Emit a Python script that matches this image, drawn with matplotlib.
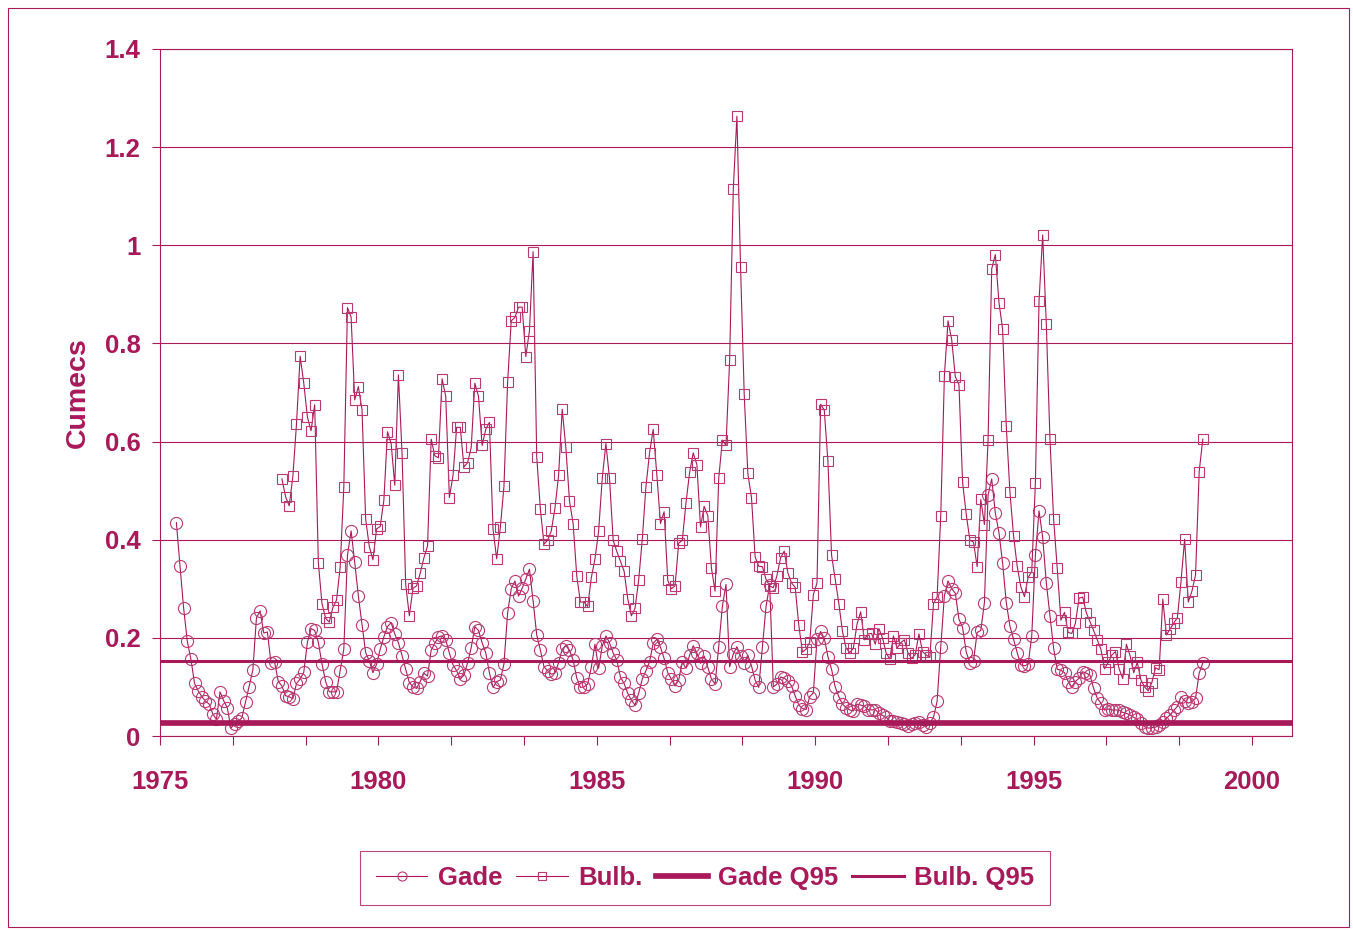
import matplotlib
matplotlib.use('Agg')
import matplotlib.pyplot as plt
from matplotlib.patches import Rectangle
import numpy as np

plt.rcParams['font.family'] = ['Liberation Sans', 'DejaVu Sans']

col = '#A8195A'
mcol = '#B93A72'   # markers look a bit lighter than the lines

# monthly flows (cumecs), month index counted from Jan 1975
gade_start = 4      # May 1975
gade = [0.435, 0.346, 0.26, 0.193, 0.156, 0.107, 0.092, 0.08, 0.071, 0.065,
        0.045, 0.034, 0.09, 0.072, 0.057, 0.016, 0.025, 0.03, 0.037, 0.069,
        0.10, 0.134, 0.241, 0.255, 0.21, 0.212, 0.149, 0.15, 0.111, 0.102,
        0.082, 0.08, 0.076, 0.107, 0.116, 0.13, 0.191, 0.219, 0.215, 0.191,
        0.147, 0.111, 0.09, 0.09, 0.09, 0.133, 0.177, 0.368, 0.418, 0.354,
        0.285, 0.227, 0.17, 0.153, 0.129, 0.146, 0.177, 0.202, 0.223, 0.231,
        0.208, 0.19, 0.164, 0.136, 0.109, 0.10, 0.097, 0.111, 0.128, 0.122,
        0.175, 0.189, 0.202, 0.204, 0.196, 0.169, 0.145, 0.133, 0.116, 0.124,
        0.149, 0.18, 0.223, 0.215, 0.19, 0.169, 0.129, 0.099, 0.111, 0.114,
        0.147, 0.251, 0.30, 0.316, 0.285, 0.301, 0.32, 0.34, 0.275, 0.206,
        0.175, 0.141, 0.133, 0.126, 0.128, 0.149, 0.177, 0.184, 0.175, 0.155,
        0.118, 0.099, 0.10, 0.106, 0.14, 0.187, 0.138, 0.183, 0.204, 0.19,
        0.169, 0.155, 0.12, 0.107, 0.087, 0.073, 0.063, 0.087, 0.116, 0.133,
        0.151, 0.189, 0.197, 0.181, 0.158, 0.129, 0.116, 0.102, 0.114, 0.151,
        0.138, 0.165, 0.184, 0.169, 0.148, 0.163, 0.14, 0.116, 0.106, 0.182,
        0.264, 0.309, 0.141, 0.167, 0.182, 0.163, 0.149, 0.165, 0.143, 0.114,
        0.099, 0.182, 0.264, 0.308, 0.10, 0.106, 0.12, 0.118, 0.112, 0.102,
        0.082, 0.063, 0.056, 0.054, 0.08, 0.088, 0.197, 0.213, 0.199, 0.162,
        0.136, 0.10, 0.08, 0.065, 0.058, 0.053, 0.051, 0.065, 0.063, 0.061,
        0.054, 0.053, 0.054, 0.046, 0.042, 0.038, 0.031, 0.03, 0.028, 0.027,
        0.024, 0.02, 0.024, 0.026, 0.028, 0.022, 0.019, 0.027, 0.038, 0.071,
        0.182, 0.286, 0.316, 0.30, 0.291, 0.238, 0.221, 0.171, 0.149, 0.153,
        0.211, 0.215, 0.272, 0.491, 0.524, 0.454, 0.414, 0.352, 0.272, 0.224,
        0.197, 0.17, 0.145, 0.143, 0.146, 0.204, 0.369, 0.459, 0.405, 0.312,
        0.245, 0.179, 0.136, 0.134, 0.129, 0.111, 0.10, 0.111, 0.118, 0.131,
        0.128, 0.124, 0.097, 0.077, 0.067, 0.053, 0.055, 0.053, 0.053, 0.053,
        0.048, 0.046, 0.043, 0.038, 0.034, 0.026, 0.019, 0.016, 0.017, 0.018,
        0.022, 0.029, 0.036, 0.043, 0.052, 0.06, 0.08, 0.072, 0.067, 0.07,
        0.077, 0.128, 0.149]

bulb_start = 33     # Oct 1977
bulb = [0.524, 0.488, 0.469, 0.529, 0.636, 0.774, 0.719, 0.65, 0.622, 0.675,
        0.353, 0.27, 0.24, 0.232, 0.262, 0.277, 0.344, 0.507, 0.873, 0.854,
        0.685, 0.712, 0.665, 0.442, 0.386, 0.359, 0.422, 0.427, 0.48, 0.62,
        0.596, 0.511, 0.736, 0.576, 0.309, 0.245, 0.301, 0.306, 0.332, 0.363,
        0.387, 0.605, 0.571, 0.567, 0.728, 0.692, 0.486, 0.531, 0.629, 0.629,
        0.548, 0.557, 0.588, 0.719, 0.692, 0.592, 0.625, 0.639, 0.421, 0.361,
        0.425, 0.509, 0.721, 0.846, 0.853, 0.874, 0.874, 0.773, 0.826, 0.987,
        0.569, 0.462, 0.391, 0.399, 0.418, 0.464, 0.531, 0.666, 0.588, 0.479,
        0.433, 0.326, 0.273, 0.273, 0.264, 0.323, 0.361, 0.417, 0.525, 0.596,
        0.525, 0.399, 0.376, 0.356, 0.336, 0.28, 0.245, 0.26, 0.317, 0.401,
        0.508, 0.577, 0.625, 0.532, 0.433, 0.457, 0.317, 0.30, 0.306, 0.393,
        0.399, 0.475, 0.537, 0.577, 0.553, 0.426, 0.468, 0.449, 0.342, 0.295,
        0.525, 0.603, 0.592, 0.766, 1.114, 1.263, 0.955, 0.697, 0.535, 0.486,
        0.365, 0.346, 0.345, 0.319, 0.306, 0.302, 0.327, 0.363, 0.377, 0.332,
        0.312, 0.303, 0.226, 0.171, 0.177, 0.191, 0.288, 0.312, 0.676, 0.664,
        0.56, 0.369, 0.32, 0.27, 0.213, 0.179, 0.17, 0.179, 0.228, 0.253,
        0.196, 0.208, 0.209, 0.187, 0.219, 0.20, 0.169, 0.157, 0.204, 0.179,
        0.19, 0.196, 0.169, 0.158, 0.166, 0.208, 0.172, 0.165, 0.16, 0.27,
        0.283, 0.449, 0.734, 0.846, 0.808, 0.732, 0.716, 0.517, 0.452, 0.399,
        0.395, 0.345, 0.482, 0.431, 0.603, 0.952, 0.981, 0.883, 0.829, 0.632,
        0.498, 0.408, 0.346, 0.304, 0.284, 0.323, 0.335, 0.516, 0.886, 1.021,
        0.84, 0.605, 0.443, 0.342, 0.236, 0.252, 0.211, 0.209, 0.23, 0.281,
        0.283, 0.251, 0.233, 0.215, 0.196, 0.177, 0.137, 0.15, 0.165, 0.172,
        0.137, 0.117, 0.187, 0.164, 0.129, 0.15, 0.114, 0.10, 0.092, 0.109,
        0.139, 0.135, 0.279, 0.206, 0.218, 0.23, 0.241, 0.314, 0.401, 0.273,
        0.295, 0.328, 0.539, 0.605]

gade_q95 = 0.026
bulb_q95 = 0.152

year_labels = ['1975', '1980', '1985', '1990', '1995', '2000']

# x in decimal years, point in the middle of each month
xg = 1975 + (gade_start + np.arange(len(gade)) + 0.5) / 12
xb = 1975 + (bulb_start + np.arange(len(bulb)) + 0.5) / 12

fig = plt.figure(figsize=(13.53, 9.30), dpi=100)
ax = fig.add_axes([160/1353, 1 - 736/930, 1132/1353, 687/930])

ax.plot(xg, gade, color=col, lw=0.8, marker='o', ms=8.7, mfc='none',
        mec=mcol, mew=0.8, label='Gade')
ax.plot(xb, bulb, color=col, lw=0.8, marker='s', ms=7.4, mfc='none',
        mec=mcol, mew=0.8, label='Bulb.')
ax.axhline(gade_q95, color=col, lw=4.1, label='Gade Q95')
ax.axhline(bulb_q95, color=col, lw=2.2, label='Bulb. Q95')

ax.set_xlim(1975, 1975 + 311/12)
ax.set_ylim(0, 1.4)

# ticks every 20 months, labels every 5 years
ax.set_xticks(1975 + np.arange(0, 311, 20)/12)
ax.set_xticklabels([year_labels[i//60] if i % 60 == 0 else ''
                    for i in range(0, 311, 20)])
ax.set_yticks(np.arange(0, 1.41, 0.2))
ax.set_yticklabels(['0', '0.2', '0.4', '0.6', '0.8', '1', '1.2', '1.4'])
ax.tick_params(axis='both', direction='out', color=col, width=0.8,
               labelcolor=col, labelsize=18.5)
ax.tick_params(axis='x', length=6.5, pad=18)
ax.tick_params(axis='y', length=6, pad=8)
for lab in ax.get_xticklabels() + ax.get_yticklabels():
    lab.set_fontweight('bold')

ax.grid(axis='y', color=col, lw=0.8)
for s in ax.spines.values():
    s.set_color(col)
    s.set_linewidth(0.8)

ax.set_ylabel('Cumecs', fontsize=20.5, fontweight='bold', color=col, labelpad=10)

leg = fig.legend(loc='center', bbox_to_anchor=(705/1353, 1 - 878/930), ncol=4,
                 frameon=True, fancybox=False, edgecolor=col, markerscale=0.75,
                 handlelength=2.0, handletextpad=0.4, columnspacing=0.55,
                 borderpad=0.6, prop={'size': 18.5, 'weight': 'bold'})
leg.get_frame().set_linewidth(0.8)
for t in leg.get_texts():
    t.set_color(col)

# outer border
fig.patches.append(Rectangle((8/1353, 3/930), 1341/1353, 919/930, transform=fig.transFigure,
                             fill=False, edgecolor=col, lw=0.8))

fig.savefig('out.png', dpi=100)
